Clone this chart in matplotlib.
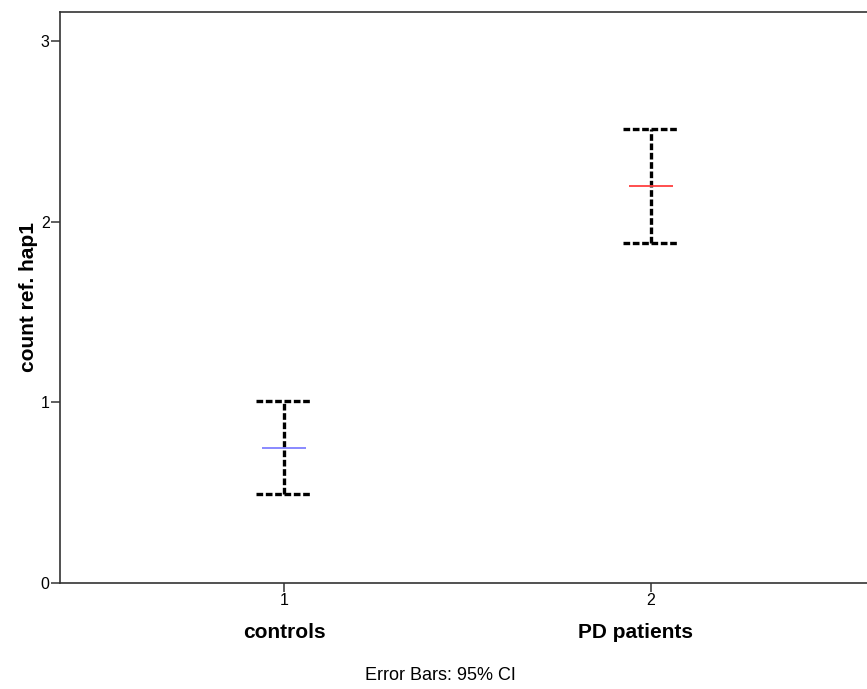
import matplotlib
matplotlib.use("Agg")
import matplotlib.pyplot as plt
import matplotlib.transforms as mtransforms

plt.rcParams['font.family'] = ['Liberation Sans', 'DejaVu Sans']

# group data
groups = [1, 2]
group_names = ["controls", "PD patients"]
means = [0.747, 2.197]
ci_low = [0.493, 1.882]
ci_high = [1.007, 2.512]
mean_colors = ["#8080ff", "#ff4040"]

fig = plt.figure(figsize=(8.67, 6.89), dpi=100)
ax = fig.add_axes([60/867, 106/689, 815/867, 571/689])

cap = 0.077
mline = 0.06
dash = (0, (2, 0.8))
for x, m, lo, hi, c in zip(groups, means, ci_low, ci_high, mean_colors):
    ax.vlines(x, lo, hi, colors="black", linestyles=dash, lw=2.4, zorder=2)
    ax.hlines([lo, hi], x - cap, x + cap, colors="black", linestyles=dash, lw=2.4, zorder=2)
    ax.hlines(m, x - mline, x + mline, colors=c, lw=1.3, zorder=3)

ax.set_xlim(0.39, 2.61)
ax.set_ylim(0, 3.16)
ax.set_xticks(groups)
ax.set_xticklabels([str(g) for g in groups], fontsize=11.5)
ax.set_yticks([0, 1, 2, 3])
ax.set_yticklabels(["0", "1", "2", "3"], fontsize=11.5)
ax.tick_params(direction="out", length=6.5, width=1.1, color="#333333", pad=1)

for s in ax.spines.values():
    s.set_linewidth(1.2)
    s.set_color("#333333")

ax.set_ylabel("count ref. hap1", fontsize=15, fontweight="bold", labelpad=2)

# category names sit under the tick numbers; the right one is pulled in a bit
name_shift = [0, -16]
for x, name, dx in zip(groups, group_names, name_shift):
    trans = mtransforms.blended_transform_factory(ax.transData, fig.transFigure) + \
        mtransforms.Affine2D().translate(dx, 0)
    ax.text(x, 1 - 633/689, name, transform=trans, ha="center", va="center",
            fontsize=15, fontweight="bold")

fig.text(440/867, 1 - 675/689, "Error Bars: 95% CI", ha="center", va="center", fontsize=13)

fig.savefig("out.png", dpi=100)
